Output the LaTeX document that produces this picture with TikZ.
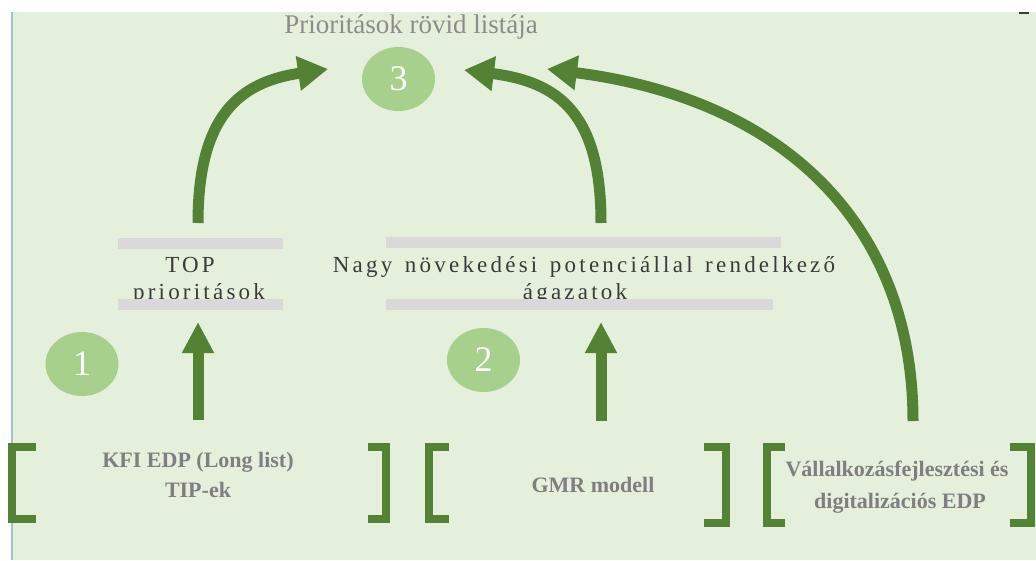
\documentclass[tikz,border=0pt]{standalone}
\usepackage{fontspec}
\setmainfont{Liberation Serif}
\newfontfamily\spacedfont[LetterSpace=14,WordSpace=1.4]{Liberation Serif}
\usetikzlibrary{arrows.meta,shapes.geometric}

\definecolor{paper}{HTML}{E4F0DC}
\definecolor{rule}{HTML}{A3C1D6}
\definecolor{leaf}{HTML}{548235}
\definecolor{badge}{HTML}{A8D08D}
\definecolor{barfill}{HTML}{D9D9D9}
\definecolor{titlegray}{HTML}{8C8C8C}
\definecolor{labelgray}{HTML}{7F7F7F}
\definecolor{ink}{HTML}{3A3A3A}

\tikzset{
  badgenode/.style={ellipse, fill=badge, minimum width=73pt, minimum height=64pt,
    inner sep=0pt, text=white, font=\fontsize{36}{36}\selectfont},
  barnode/.style={rectangle, fill=barfill, inner sep=0pt, minimum height=11pt},
  midtext/.style={anchor=base, inner sep=0pt, text=ink,
    font=\spacedfont\fontsize{23}{27}\selectfont},
  boxtext/.style={anchor=base, inner sep=0pt, text=labelgray,
    font=\bfseries\fontsize{22}{26}\selectfont},
  bracket/.style={leaf, line width=8pt, line join=miter, line cap=rect},
  curvearrow/.style={leaf, line width=11pt, -{Triangle[length=30pt,width=33pt]}},
  uparrow/.style={leaf, line width=11pt, -{Triangle[length=31pt,width=30pt]}},
}

\begin{document}
\begin{tikzpicture}[x=1pt,y=-1pt]
\useasboundingbox (0,0) rectangle (1036,560);
\fill[white] (0,0) rectangle (1036,560);
\fill[paper] (11,12) rectangle (1036,560);
\draw[rule, line width=2.2pt] (11.8,12) -- (11.8,560);
\draw[ink, line width=2pt] (1019,13) -- (1029,13);

% heading and the three numbered badges
\node[anchor=base, inner sep=0pt, text=titlegray, font=\fontsize{27}{30}\selectfont]
  (title) at (411,33) {Prioritások rövid listája};
\node[badgenode] (b3) at (398.5,79) {3};
\node[badgenode] (b1) at (82,364) {1};
\node[badgenode] (b2) at (483.5,360) {2};

% middle level labels
\node[midtext] (topA) at (190,272) {TOP};
\node[midtext] (topB) at (199,299) {prioritások};
\node[midtext] (nagyA) at (584,272) {Nagy növekedési potenciállal rendelkező};
\node[midtext] (nagyB) at (575,299) {ágazatok};

% grey rules above and below the labels
\node[barnode, minimum width=165pt] (topbar1) at (200.5,243) {};
\node[barnode, minimum width=165pt] (topbar2) at (200.5,304.5) {};
\node[barnode, minimum width=395pt] (nagybar1) at (583.5,242) {};
\node[barnode, minimum width=387pt] (nagybar2) at (579.5,304.5) {};

% source boxes at the bottom
\node[boxtext] (kfi1) at (198,467) {KFI EDP (Long list)};
\node[boxtext] (kfi2) at (198,497) {TIP-ek};
\node[boxtext] (gmr) at (593,492) {GMR modell};
\node[boxtext] (vall1) at (897,476) {Vállalkozásfejlesztési és};
\node[boxtext] (vall2) at (900,508) {digitalizációs EDP};

% brackets
\draw[bracket] (32,447) -- (12,447) -- (12,519) -- (32,519);
\draw[bracket] (372,447) -- (386,447) -- (386,519) -- (372,519);
\draw[bracket] (445,447) -- (429,447) -- (429,519) -- (445,519);
\draw[bracket] (708,447) -- (726,447) -- (726,523) -- (708,523);
\draw[bracket] (781,447) -- (767,447) -- (767,523) -- (781,523);
\draw[bracket] (1014,447) -- (1031,447) -- (1031,523) -- (1014,523);

% arrow end points
\coordinate (upA0) at (198,420);
\coordinate (upA1) at (198,322);
\coordinate (upB0) at (601,421);
\coordinate (upB1) at (601,322);
\coordinate (cA0) at (198,223);
\coordinate (cA1) at (328,69);
\coordinate (cB0) at (601,223);
\coordinate (cB1) at (464,70);
\coordinate (cC0) at (913,421);
\coordinate (cC1) at (547,69);

% arrows
\draw[uparrow] (upA0) -- (upA1);
\draw[uparrow] (upB0) -- (upB1);
\draw[curvearrow] (cA0) .. controls (198,115) and (240,82) .. (cA1);
\draw[curvearrow] (cB0) .. controls (601,115) and (560,82) .. (cB1);
\draw[curvearrow] (cC0) .. controls (913,230) and (790,100) .. (cC1);
\end{tikzpicture}
\end{document}
